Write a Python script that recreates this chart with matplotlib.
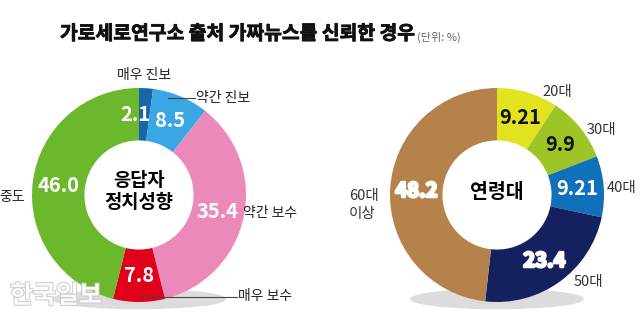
import numpy as np
import matplotlib.pyplot as plt
import matplotlib.patheffects as pe
from matplotlib.patches import Ellipse

plt.rcParams['font.family'] = ['Noto Sans CJK KR', 'DejaVu Sans']

# 응답자 정치성향
pol_labels = ["매우 진보", "약간 진보", "약간 보수", "매우 보수", "중도"]
pol_values = [2.1, 8.5, 35.4, 7.8, 46.0]
pol_colors = ["#1766ac", "#3ba6e4", "#ec89bb", "#e1001b", "#6cb82d"]

# 연령대
age_labels = ["20대", "30대", "40대", "50대", "60대\n이상"]
age_values = [9.21, 9.9, 9.21, 23.4, 48.2]
age_colors = ["#e2e21f", "#9dc526", "#1170ba", "#15205f", "#b6824b"]
age_text_colors = ["#111111", "#111111", "white", "white", "white"]

W, H = 640, 323
fig = plt.figure(figsize=(6.4, 3.23), dpi=100)
ax = fig.add_axes([0, 0, 1, 1])

R = 107
ring = 0.49 * R


def donut(values, colors, cx, cy):
    ax.add_patch(Ellipse((cx, 24), 172, 19, color="#dcdcdc", zorder=0))
    wedges, _ = ax.pie(values, colors=colors, startangle=90, counterclock=False,
                       center=(cx, cy), radius=R, frame=True,
                       wedgeprops=dict(width=ring, edgecolor="none"))
    for w in wedges:
        w.set_zorder(1)
    # mid-angle of every wedge for the value labels
    mids = [np.deg2rad((w.theta1 + w.theta2) / 2) for w in wedges]
    return mids


# left donut
lcx, lcy = 139, 128
mids = donut(pol_values, pol_colors, lcx, lcy)
rm = R - ring / 2
nudge = [-9, 0, 0, 0, 0]
for v, a, dx in zip(pol_values, mids, nudge):
    ax.text(lcx + rm * np.cos(a) + dx, lcy + rm * np.sin(a), f"{v:.1f}",
            ha="center", va="center", color="white", fontsize=14.5,
            weight="bold", zorder=3)
ax.text(lcx, lcy + 3, "응답자\n정치성향", ha="center", va="center",
        fontsize=13.5, weight="bold", linespacing=1.2, zorder=3)

lab = dict(fontsize=10, color="#222222", va="center", zorder=3)
ax.text(144, H - 75, pol_labels[0], ha="center", **lab)
ax.text(196, H - 98, pol_labels[1], ha="left", **lab)
ax.plot([168, 195], [H - 98, H - 98], color="#444444", lw=0.8, zorder=3)
ax.text(243, H - 213, pol_labels[2], ha="left", **lab)
ax.text(238, H - 296, pol_labels[3], ha="left", **lab)
ax.plot([141, 237], [H - 297, H - 297], color="#444444", lw=0.8, zorder=3)
ax.text(-1, H - 197, pol_labels[4], ha="left", **lab)

# right donut
rcx, rcy = 497, 128
mids = donut(age_values, age_colors, rcx, rcy)
heavy = [False, False, False, True, True]
for v, a, c, hv in zip(age_values, mids, age_text_colors, heavy):
    t = ax.text(rcx + rm * np.cos(a), rcy + rm * np.sin(a), f"{v:g}",
                ha="center", va="center", color=c, fontsize=14.5,
                weight="bold", zorder=3)
    if hv:
        t.set_path_effects([pe.withStroke(linewidth=1.8, foreground="white")])
ax.text(rcx, rcy + 2, "연령대", ha="center", va="center",
        fontsize=14, weight="bold", zorder=3)

lab2 = dict(fontsize=10.5, color="#333333", va="center", ha="left", zorder=3)
ax.text(542, H - 92, age_labels[0], **lab2)
ax.text(587, H - 130, age_labels[1], **lab2)
ax.text(607, H - 188, age_labels[2], **lab2)
ax.text(574, H - 282, age_labels[3], **lab2)
ax.text(349, H - 205, age_labels[4], linespacing=1.45, **lab2)

# title
ax.text(60, H - 34, "가로세로연구소 출처 가짜뉴스를 신뢰한 경우", ha="left",
        va="center", fontsize=13.9, weight="bold", color="#111111",
        path_effects=[pe.withStroke(linewidth=0.6, foreground="#111111")])
ax.text(417, H - 37, "(단위: %)", ha="left", va="center", fontsize=8,
        color="#666666")

# watermark
ax.text(10, H - 296, "한국일보", ha="left", va="center", fontsize=18,
        weight="bold", color="white", alpha=0.85, zorder=4,
        path_effects=[pe.withStroke(linewidth=1.5, foreground="#c8c8c8")])

ax.set_xlim(0, W)
ax.set_ylim(0, H)
ax.set_aspect("equal")
ax.axis("off")

fig.savefig("out.png", dpi=100, facecolor="white")
